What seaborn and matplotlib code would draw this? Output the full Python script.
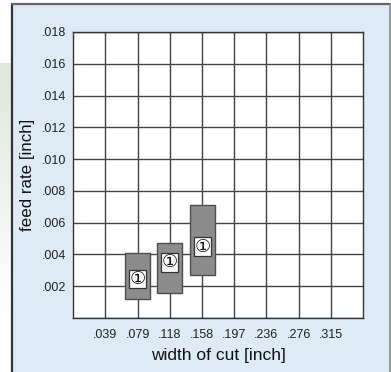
import numpy as np
import pandas as pd
import matplotlib
matplotlib.use("Agg")
import matplotlib.pyplot as plt
import seaborn as sns
from matplotlib.patches import Rectangle

# recommended cutting data ranges
cut_width = [0.079, 0.118, 0.158]          # width of cut [inch]
feed_low = [0.0012, 0.0016, 0.0027]        # feed rate min [inch]
feed_high = [0.0041, 0.0047, 0.0071]       # feed rate max [inch]
label_y = [0.00245, 0.0035, 0.0045]        # where the ① tag sits
tag = ["①", "①", "①"]

x_ticks = [0.039, 0.079, 0.118, 0.158, 0.197, 0.236, 0.276, 0.315]
x_labels = [".039", ".079", ".118", ".158", ".197", ".236", ".276", ".315"]
y_ticks = [0.0, 0.002, 0.004, 0.006, 0.008, 0.010, 0.012, 0.014, 0.016, 0.018]
y_labels = ["", ".002", ".004", ".006", ".008", ".010", ".012", ".014", ".016", ".018"]

df = pd.DataFrame({"width": cut_width, "low": feed_low, "high": feed_high})
df["span"] = df["high"] - df["low"]

sns.set_style("white")
plt.rcParams["font.family"] = ["Liberation Sans", "DejaVu Sans", "Noto Sans CJK SC"]

fig = plt.figure(figsize=(3.91, 3.72), dpi=100)
fig.patch.set_facecolor("white")

# green fade on the far left
gax = fig.add_axes([0, 1 - 310 / 372, 12 / 391, (310 - 63) / 372], zorder=0)
grad = np.linspace(1, 0, 100).reshape(-1, 1)
gax.imshow(grad, aspect="auto", cmap=matplotlib.colors.LinearSegmentedColormap.from_list(
    "g", ["#ffffff", "#dde7db"]), vmin=0, vmax=1)
gax.axis("off")

# light blue panel
fig.patches.append(Rectangle((12 / 391, 0), 378 / 391, 1 - 4 / 372, transform=fig.transFigure,
                             facecolor="#dfeaf7", edgecolor="none", zorder=1))
fig.lines.append(plt.Line2D([12 / 391, 12 / 391], [0, 1 - 3.5 / 372], transform=fig.transFigure,
                            color="#333333", lw=1.6, zorder=2))
fig.lines.append(plt.Line2D([11.5 / 391, 390 / 391], [1 - 3.5 / 372, 1 - 3.5 / 372],
                            transform=fig.transFigure, color="#666666", lw=1.6, zorder=2))
fig.lines.append(plt.Line2D([390 / 391, 390 / 391], [0, 1 - 3.5 / 372], transform=fig.transFigure,
                            color="#888888", lw=1.2, zorder=2))

ax = fig.add_axes([73 / 391, 1 - 318 / 372, 290 / 391, 286 / 372], zorder=3)
ax.set_facecolor("white")

ax.bar(df["width"], df["span"], bottom=df["low"], width=0.0305,
       color="#8c8c8c", edgecolor="#4d4d4d", linewidth=1.0, zorder=3)

for xv, yv, t in zip(cut_width, label_y, tag):
    ax.text(xv, yv, t, ha="center", va="center", fontsize=13, color="#111111", zorder=4,
            family=["DejaVu Sans"],
            bbox=dict(boxstyle="square,pad=0.02", facecolor="white", edgecolor="#333333", linewidth=0.9))

ax.set_xlim(0, 0.3543)
ax.set_ylim(0, 0.018)
ax.set_xticks(x_ticks)
ax.set_xticklabels(x_labels)
ax.set_yticks(y_ticks)
ax.set_yticklabels(y_labels)
ax.tick_params(length=0, labelsize=9, colors="#222222")
ax.tick_params(axis="x", pad=8)
ax.tick_params(axis="y", pad=5)
ax.grid(True, color="#444444", linewidth=1.0, zorder=1)
ax.set_axisbelow(True)
for s in ax.spines.values():
    s.set_color("#333333")
    s.set_linewidth(1.0)

ax.set_xlabel("width of cut [inch]", fontsize=12.5, color="#111111", labelpad=5)
ax.set_ylabel("feed rate [inch]", fontsize=12.2, color="#111111", labelpad=5)

fig.savefig("out.png", dpi=100)
